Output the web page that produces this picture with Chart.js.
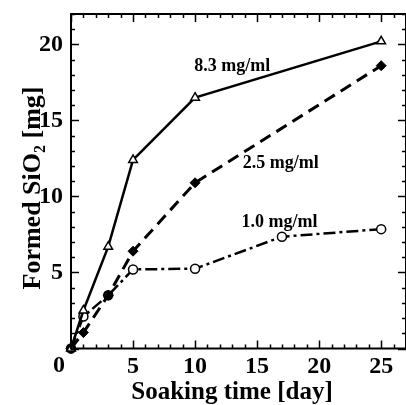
<!DOCTYPE html>
<html>
<head>
<meta charset="utf-8">
<script src="https://cdn.jsdelivr.net/npm/chart.js@4.4.0/dist/chart.umd.min.js"></script>
<style>
  html, body { margin: 0; padding: 0; background: #fff; }
</style>
</head>
<body>
<canvas id="silicaChart" width="406" height="405"></canvas>
<script>
// data: formed SiO2 [mg] vs soaking time [day]
const days83 = [0, 1, 3, 5, 10, 25];
const sio2_83 = [0, 2.5, 6.7, 12.4, 16.5, 20.2];
const days25 = [0, 1, 3, 5, 10, 25];
const sio2_25 = [0, 1.05, 3.5, 6.4, 10.9, 18.6];
const days10 = [0, 1, 3, 5, 10, 17, 25];
const sio2_10 = [0, 2.1, 3.5, 5.2, 5.25, 7.35, 7.85];
const seriesNames = ["8.3 mg/ml", "2.5 mg/ml", "1.0 mg/ml"];
const xTickValues = [0, 5, 10, 15, 20, 25];
const yTickValues = [5, 10, 15, 20];

const FONT = "'Liberation Serif', 'Times New Roman', serif";

function toPoints(xs, ys) {
    return xs.map((x, i) => ({ x: x, y: ys[i] }));
}

/* frame, inward ticks, labels drawn on top of the plot */
const framePlugin = {
    id: "frame",
    afterDraw(chart) {
        const { ctx, chartArea: a, scales } = chart;
        const xs = scales.x, ys = scales.y;
        ctx.save();
        ctx.strokeStyle = "#000";
        ctx.lineWidth = 2;
        ctx.strokeRect(a.left, a.top, a.right - a.left, a.bottom - a.top);

        ctx.lineWidth = 1.5;
        ctx.beginPath();
        for (let v = xs.min; v <= xs.max; v++) {
            const px = Math.round(xs.getPixelForValue(v)) + 0.5;
            const len = v % 5 === 0 ? 8 : 4;
            ctx.moveTo(px, a.bottom); ctx.lineTo(px, a.bottom - len);
            ctx.moveTo(px, a.top); ctx.lineTo(px, a.top + len);
        }
        for (let v = ys.min; v <= ys.max; v++) {
            const py = Math.round(ys.getPixelForValue(v)) + 0.5;
            const len = v % 5 === 0 ? 8 : 4;
            ctx.moveTo(a.left, py); ctx.lineTo(a.left + len, py);
            ctx.moveTo(a.right, py); ctx.lineTo(a.right - len, py);
        }
        ctx.stroke();

        // series labels
        ctx.fillStyle = "#000";
        ctx.font = "bold 18px " + FONT;
        ctx.textAlign = "center";
        ctx.textBaseline = "alphabetic";
        const spots = [[13.0, 18.25], [16.9, 11.87], [16.8, 8.0]];
        seriesNames.forEach((name, i) => {
            ctx.fillText(name, xs.getPixelForValue(spots[i][0]), ys.getPixelForValue(spots[i][1]));
        });

        // shared origin label
        ctx.font = "bold 24px " + FONT;
        ctx.textBaseline = "top";
        ctx.fillText("0", a.left - 12, a.bottom + 5);

        // x title
        ctx.font = "bold 25px " + FONT;
        ctx.textBaseline = "alphabetic";
        ctx.fillText("Soaking time [day]", 232, 399);

        // y title with subscript
        ctx.translate(40, 188);
        ctx.rotate(-Math.PI / 2);
        ctx.textAlign = "left";
        const big = "bold 26px " + FONT, small = "bold 16px " + FONT;
        ctx.font = big;
        const w1 = ctx.measureText("Formed SiO").width;
        const w3 = ctx.measureText(" [mg]").width;
        ctx.font = small;
        const w2 = ctx.measureText("2").width;
        let x0 = -(w1 + w2 + w3) / 2;
        ctx.font = big;
        ctx.fillText("Formed SiO", x0, 0);
        ctx.font = small;
        ctx.fillText("2", x0 + w1, 5);
        ctx.font = big;
        ctx.fillText(" [mg]", x0 + w1 + w2, 0);
        ctx.restore();
    }
};

new Chart(document.getElementById("silicaChart"), {
    type: "line",
    data: {
        datasets: [{
            label: seriesNames[0],
            data: toPoints(days83, sio2_83),
            borderColor: "#000",
            borderWidth: 2.5,
            pointStyle: "triangle",
            pointRadius: 5,
            pointBorderWidth: 1.5,
            pointBackgroundColor: "#fff",
            pointBorderColor: "#000",
            clip: false
        }, {
            label: seriesNames[1],
            data: toPoints(days25, sio2_25),
            borderColor: "#000",
            borderWidth: 3,
            borderDash: [12, 7],
            pointStyle: "rectRot",
            pointRadius: 5,
            pointBorderWidth: 1,
            pointBackgroundColor: "#000",
            pointBorderColor: "#000",
            clip: false
        }, {
            label: seriesNames[2],
            data: toPoints(days10, sio2_10),
            borderColor: "#000",
            borderWidth: 2.5,
            borderDash: [12, 4, 3, 4],
            pointStyle: "circle",
            pointRadius: 4.5,
            pointBorderWidth: 1.5,
            pointBackgroundColor: ["#000", "#fff", "#000", "#fff", "#fff", "#fff", "#fff"],
            pointBorderColor: "#000",
            clip: false
        }]
    },
    options: {
        responsive: false,
        animation: false,
        events: [],
        layout: {
            autoPadding: false,
            padding: { top: 14, right: -3, bottom: 0, left: 0 }
        },
        plugins: {
            legend: { display: false },
            tooltip: { enabled: false }
        },
        scales: {
            x: {
                type: "linear",
                min: 0,
                max: 27,
                grid: { display: false, drawTicks: false },
                border: { display: false },
                afterFit(scale) {
                    scale.height = 56.5;
                    scale.paddingLeft = 0;
                    scale.paddingRight = 0;
                },
                afterBuildTicks(scale) { scale.ticks = xTickValues.map(v => ({ value: v })); },
                ticks: {
                    padding: 4,
                    maxRotation: 0,
                    color: "#000",
                    font: { family: FONT, size: 24, weight: "bold" },
                    callback: v => (v === 0 ? "" : v)
                }
            },
            y: {
                min: 0,
                max: 22,
                grid: { display: false, drawTicks: false },
                border: { display: false },
                afterFit(scale) {
                    scale.width = 71;
                    scale.paddingTop = 0;
                    scale.paddingBottom = 0;
                },
                afterBuildTicks(scale) { scale.ticks = yTickValues.map(v => ({ value: v })); },
                ticks: {
                    padding: 8,
                    color: "#000",
                    font: { family: FONT, size: 24, weight: "bold" }
                }
            }
        }
    },
    plugins: [framePlugin]
});
</script>
</body>
</html>
